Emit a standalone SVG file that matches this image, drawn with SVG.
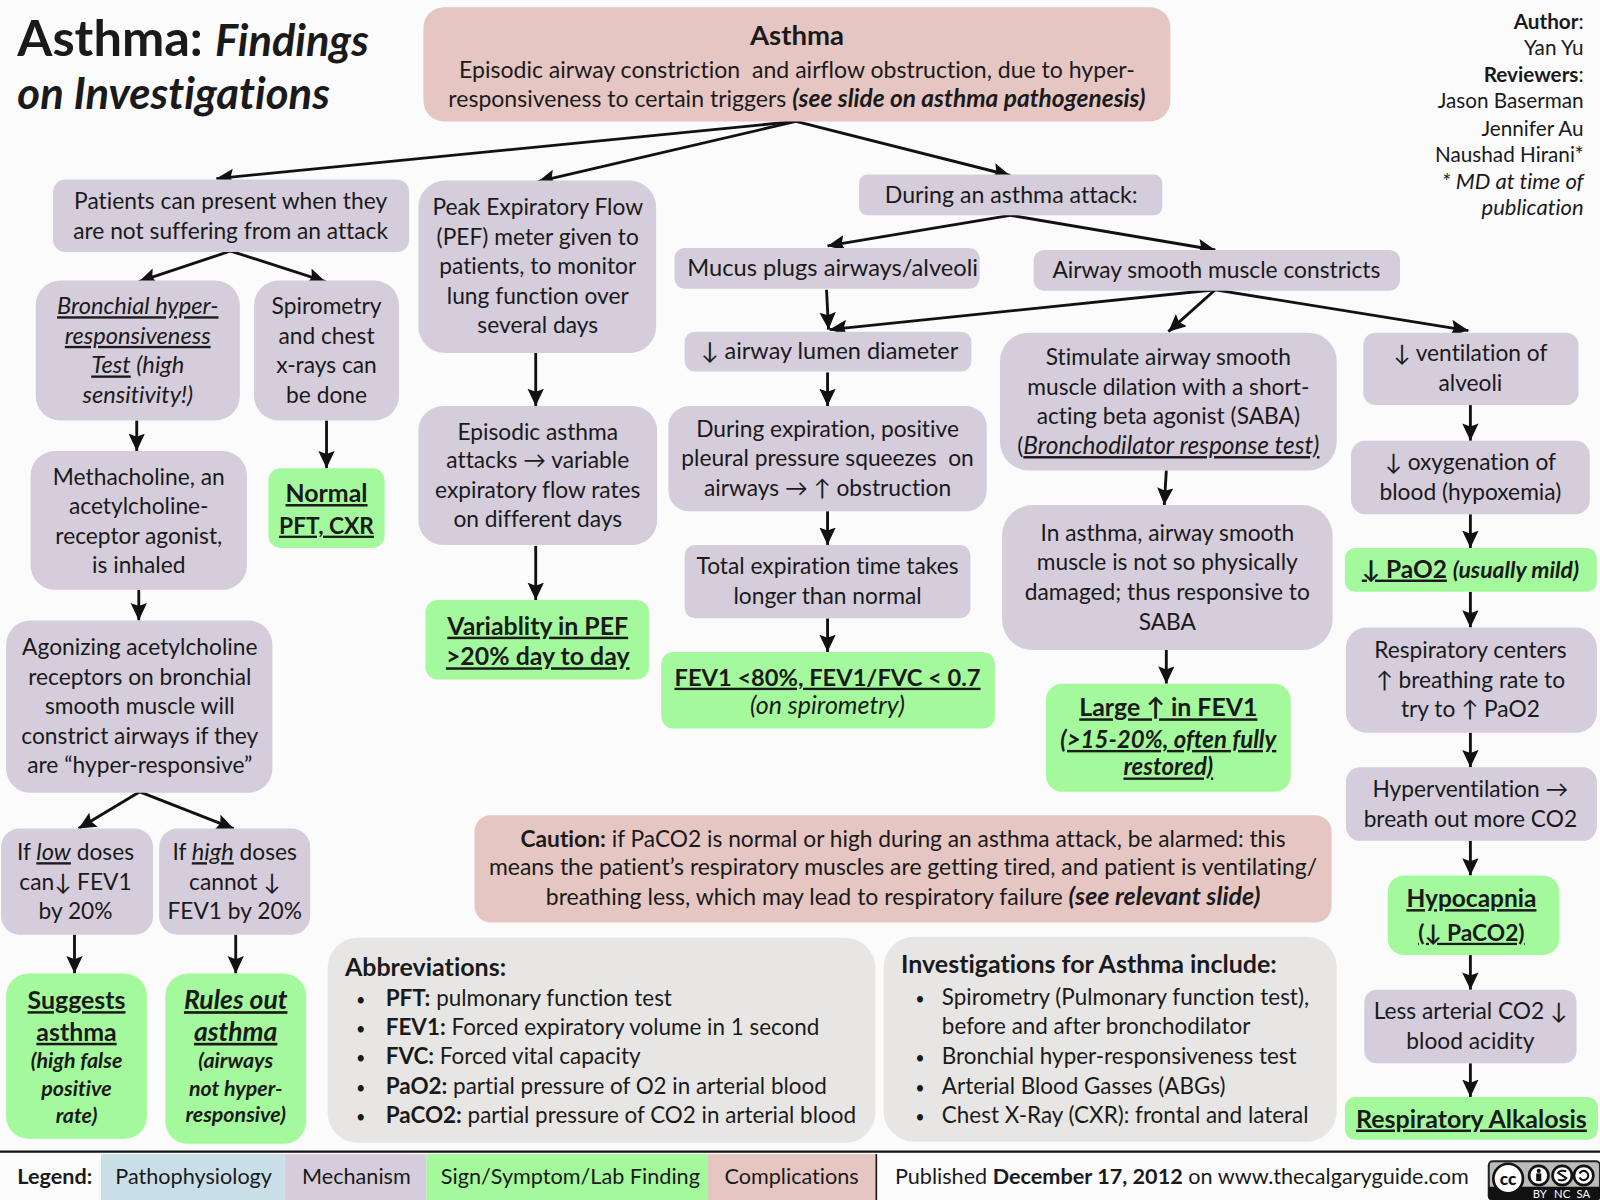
<svg xmlns="http://www.w3.org/2000/svg" width="1600" height="1200" viewBox="0 0 1600 1200">
<defs>
<marker id="ah" markerUnits="userSpaceOnUse" markerWidth="22" markerHeight="20" refX="17" refY="8" orient="auto"><path d="M0,0 L17,8 L0,16 L3,8 Z" fill="#111"/></marker>
</defs>
<style>
text{font-family:"Lato","DejaVu Sans",sans-serif;font-size:22.3px;fill:#1a1a1a;font-variant-ligatures:none}
.m{fill:#d5cddb}.g{fill:#a4f99c}.c{fill:#e5c6c2}.a{fill:#e8e6e4}
.t text{text-anchor:middle;transform:translate(0,1px)}
.b{font-weight:700}.i{font-style:italic;font-size:23.2px}.u{text-decoration:underline}
.bi{font-weight:700;font-style:italic;font-size:23.5px}
.x{font-size:24.4px}.h{font-size:24.5px}
.k line{stroke:#111;stroke-width:2.8;fill:none;marker-end:url(#ah)}
.r text{text-anchor:end;font-size:20.3px}
.s{font-size:22px}
.p{font-size:16px}
.e text{font-size:21.2px}
.o{fill:#fff;stroke:#111;stroke-width:2.6}
</style>
<rect width="1600" height="1200" fill="#fbfbfb"/>
<g transform="scale(1.0204)">
<g id="title">
<text x="17" y="55" class="b" style="font-size:49.5px">Asthma: <tspan style="font-size:42.5px;font-style:italic">Findings</tspan></text>
<text x="17" y="107" class="b" style="font-size:42.8px;font-style:italic">on Investigations</text>
</g>
<g id="author" class="r">
<text x="1552" y="28"><tspan class="b">Author</tspan>:</text>
<text x="1552" y="54">Yan Yu</text>
<text x="1552" y="80"><tspan class="b">Reviewers</tspan>:</text>
<text x="1552" y="106">Jason Baserman</text>
<text x="1552" y="133">Jennifer Au</text>
<text x="1552" y="159">Naushad Hirani*</text>
<text x="1552" y="185" style="font-style:italic;font-size:21.6px">* MD at time of</text>
<text x="1552" y="211" style="font-style:italic;font-size:21.6px">publication</text>
</g>
<g id="connectors" class="k">
<line x1="780" y1="119" x2="212" y2="175"/>
<line x1="780" y1="119" x2="527" y2="178"/>
<line x1="780" y1="119" x2="990" y2="172"/>
<line x1="990" y1="211" x2="811" y2="241"/>
<line x1="990" y1="211" x2="1191" y2="245"/>
<line x1="810" y1="284" x2="812" y2="323"/>
<line x1="1191" y1="284" x2="813" y2="323"/>
<line x1="1191" y1="284" x2="1145" y2="325"/>
<line x1="1191" y1="284" x2="1439" y2="324"/>
<line x1="226" y1="246" x2="136" y2="276"/>
<line x1="226" y1="246" x2="319" y2="276"/>
<line x1="525" y1="346" x2="525" y2="398"/>
<line x1="525" y1="535" x2="525" y2="588"/>
<line x1="134" y1="412" x2="134" y2="442"/>
<line x1="320" y1="412" x2="320" y2="459"/>
<line x1="136" y1="578" x2="136" y2="608"/>
<line x1="137" y1="776" x2="77" y2="812"/>
<line x1="137" y1="776" x2="229" y2="812"/>
<line x1="73" y1="916" x2="73" y2="954"/>
<line x1="231" y1="916" x2="231" y2="954"/>
<line x1="811" y1="365" x2="811" y2="398"/>
<line x1="811" y1="501" x2="811" y2="534"/>
<line x1="811" y1="606" x2="811" y2="639"/>
<line x1="1143" y1="461" x2="1141" y2="495"/>
<line x1="1143" y1="637" x2="1143" y2="670"/>
<line x1="1441" y1="397" x2="1441" y2="432"/>
<line x1="1441" y1="504" x2="1441" y2="537"/>
<line x1="1441" y1="580" x2="1441" y2="615"/>
<line x1="1441" y1="718" x2="1441" y2="752"/>
<line x1="1441" y1="824" x2="1441" y2="858"/>
<line x1="1441" y1="936" x2="1441" y2="970"/>
<line x1="1441" y1="1042" x2="1441" y2="1075"/>
</g>
<g id="n-asthma" class="t"><rect class="c" x="415" y="7" width="732" height="112" rx="20"/>
<text x="781" y="43" class="b" style="font-size:27px">Asthma</text>
<text x="781" y="75" style="font-size:22.6px;white-space:pre">Episodic airway constriction  and airflow obstruction, due to hyper-</text>
<text x="781" y="104" style="font-size:22.6px">responsiveness to certain triggers <tspan class="bi" style="font-size:24px">(see slide on asthma pathogenesis)</tspan></text></g>
<g id="n-patients" class="t"><rect class="m" x="52" y="176" width="349" height="71" rx="12"/>
<text x="226" y="204">Patients can present when they</text>
<text x="226" y="233">are not suffering from an attack</text></g>
<g id="n-bronchial" class="t"><rect class="m" x="35" y="275" width="200" height="137" rx="24"/>
<text x="135" y="307" class="i u">Bronchial hyper-</text>
<text x="135" y="336" class="i u">responsiveness</text>
<text x="135" y="365" class="i"><tspan class="u">Test</tspan> (high</text>
<text x="135" y="394" class="i">sensitivity!)</text></g>
<g id="n-spirometry" class="t"><rect class="m" x="249" y="275" width="142" height="137" rx="24"/>
<text x="320" y="307">Spirometry</text><text x="320" y="336">and chest</text><text x="320" y="365">x-rays can</text><text x="320" y="394">be done</text></g>
<g id="n-normal" class="t"><rect class="g" x="263" y="459" width="114" height="78" rx="12"/>
<text x="320" y="491" class="b u x">Normal</text><text x="320" y="522" class="b u">PFT, CXR</text></g>
<g id="n-methacholine" class="t"><rect class="m" x="30" y="442" width="212" height="136" rx="24"/>
<text x="136" y="474">Methacholine, an</text><text x="136" y="503">acetylcholine-</text><text x="136" y="532">receptor agonist,</text><text x="136" y="561">is inhaled</text></g>
<g id="n-agonizing" class="t"><rect class="m" x="6" y="608" width="261" height="169" rx="24"/>
<text x="137" y="641">Agonizing acetylcholine</text><text x="137" y="670">receptors on bronchial</text><text x="137" y="699">smooth muscle will</text><text x="137" y="728">constrict airways if they</text><text x="137" y="757">are “hyper-responsive”</text></g>
<g id="n-low" class="t"><rect class="m" x="1" y="812" width="149" height="104" rx="18"/>
<text x="74" y="842">If <tspan class="i u">low</tspan> doses</text><text x="74" y="871">can↓ FEV1</text><text x="74" y="900">by 20%</text></g>
<g id="n-high" class="t"><rect class="m" x="156" y="812" width="148" height="104" rx="18"/>
<text x="230" y="842">If <tspan class="i u">high</tspan> doses</text><text x="230" y="871">cannot ↓</text><text x="230" y="900">FEV1 by 20%</text></g>
<g id="n-suggests" class="t"><rect class="g" x="6" y="954" width="138" height="162" rx="22"/>
<text x="75" y="988" class="b u x">Suggests</text><text x="75" y="1019" class="b u x">asthma</text>
<text x="75" y="1046" class="bi" style="font-size:21px">(high false</text><text x="75" y="1073" class="bi" style="font-size:21px">positive</text><text x="75" y="1100" class="bi" style="font-size:21px">rate)</text></g>
<g id="n-rules" class="t"><rect class="g" x="162" y="954" width="138" height="167" rx="22"/>
<text x="231" y="988" class="bi u" style="font-size:26px">Rules out</text><text x="231" y="1019" class="bi u" style="font-size:26px">asthma</text>
<text x="231" y="1046" class="bi" style="font-size:21px">(airways</text><text x="231" y="1073" class="bi" style="font-size:21px">not hyper-</text><text x="231" y="1099" class="bi" style="font-size:21px">responsive)</text></g>
<g id="n-peak" class="t"><rect class="m" x="410" y="177" width="233" height="169" rx="26"/>
<text x="527" y="210">Peak Expiratory Flow</text><text x="527" y="239">(PEF) meter given to</text><text x="527" y="268">patients, to monitor</text><text x="527" y="297">lung function over</text><text x="527" y="325">several days</text></g>
<g id="n-episodic" class="t"><rect class="m" x="410" y="398" width="234" height="136" rx="24"/>
<text x="527" y="430">Episodic asthma</text><text x="527" y="458">attacks → variable</text><text x="527" y="487">expiratory flow rates</text><text x="527" y="515">on different days</text></g>
<g id="n-variability" class="t"><rect class="g" x="417" y="588" width="219" height="78" rx="12"/>
<text x="527" y="621" class="b u x">Variablity in PEF</text><text x="527" y="651" class="b u x">&gt;20% day to day</text></g>
<g id="n-during" class="t"><rect class="m" x="842" y="171" width="297" height="40" rx="8"/>
<text x="991" y="198" style="font-size:22.7px">During an asthma attack:</text></g>
<g id="n-mucus" class="t"><rect class="m" x="661" y="243" width="299" height="40" rx="10"/>
<text x="816" y="269" style="font-size:23.2px">Mucus plugs airways/alveoli</text></g>
<g id="n-smooth" class="t"><rect class="m" x="1013" y="245" width="359" height="40" rx="10"/>
<text x="1192" y="271">Airway smooth muscle constricts</text></g>
<g id="n-lumen" class="t"><rect class="m" x="671" y="325" width="281" height="39" rx="10"/>
<text x="813" y="351" style="font-size:23px">↓ airway lumen diameter</text></g>
<g id="n-expiration" class="t"><rect class="m" x="655" y="398" width="312" height="103" rx="20"/>
<text x="811" y="427">During expiration, positive</text><text x="811" y="456" style="white-space:pre">pleural pressure squeezes  on</text><text x="811" y="485">airways → ↑ obstruction</text></g>
<g id="n-total" class="t"><rect class="m" x="671" y="534" width="280" height="72" rx="10"/>
<text x="811" y="562">Total expiration time takes</text><text x="811" y="591">longer than normal</text></g>
<g id="n-fev" class="t"><rect class="g" x="648" y="639" width="327" height="75" rx="12"/>
<text x="811" y="671" class="b u" style="font-size:23.2px">FEV1 &lt;80%, FEV1/FVC &lt; 0.7</text><text x="811" y="699" class="i" style="font-size:24.5px">(on spirometry)</text></g>
<g id="n-stimulate" class="t"><rect class="m" x="980" y="326" width="330" height="135" rx="28"/>
<text x="1145" y="357">Stimulate airway smooth</text><text x="1145" y="386">muscle dilation with a short-</text><text x="1145" y="415">acting beta agonist (SABA)</text><text x="1145" y="444">(<tspan class="i u" style="font-size:24px">Bronchodilator response test)</tspan></text></g>
<g id="n-inasthma" class="t"><rect class="m" x="982" y="495" width="324" height="142" rx="30"/>
<text x="1144" y="529">In asthma, airway smooth</text><text x="1144" y="558">muscle is not so physically</text><text x="1144" y="587">damaged; thus responsive to</text><text x="1144" y="616">SABA</text></g>
<g id="n-large" class="t"><rect class="g" x="1025" y="670" width="240" height="106" rx="16"/>
<text x="1145" y="701" class="b u x">Large ↑ in FEV1</text><text x="1145" y="732" class="bi u">(&gt;15-20%, often fully</text><text x="1145" y="759" class="bi u">restored)</text></g>
<g id="n-ventilation" class="t"><rect class="m" x="1336" y="326" width="211" height="71" rx="12"/>
<text x="1441" y="353">↓ ventilation of</text><text x="1441" y="382">alveoli</text></g>
<g id="n-oxygenation" class="t"><rect class="m" x="1324" y="432" width="234" height="72" rx="14"/>
<text x="1441" y="460">↓ oxygenation of</text><text x="1441" y="489">blood (hypoxemia)</text></g>
<g id="n-pao2" class="t"><rect class="g" x="1318" y="537" width="247" height="43" rx="10"/>
<text x="1441" y="565"><tspan class="b u" style="font-size:24px">↓ PaO2</tspan> <tspan class="bi" style="font-size:22.5px">(usually mild)</tspan></text></g>
<g id="n-centers" class="t"><rect class="m" x="1319" y="615" width="246" height="103" rx="20"/>
<text x="1441" y="644">Respiratory centers</text><text x="1441" y="673">↑ breathing rate to</text><text x="1441" y="702">try to ↑ PaO2</text></g>
<g id="n-hyperv" class="t"><rect class="m" x="1319" y="752" width="246" height="72" rx="14"/>
<text x="1441" y="780">Hyperventilation →</text><text x="1441" y="809">breath out more CO2</text></g>
<g id="n-hypocapnia" class="t"><rect class="g" x="1360" y="858" width="168" height="78" rx="16"/>
<text x="1442" y="888" class="b u" style="font-size:24px">Hypocapnia</text><text x="1442" y="921" class="b u">(↓ PaCO2)</text></g>
<g id="n-less" class="t"><rect class="m" x="1337" y="970" width="208" height="72" rx="12"/>
<text x="1441" y="998">Less arterial CO2 ↓</text><text x="1441" y="1027">blood acidity</text></g>
<g id="n-alkalosis" class="t"><rect class="g" x="1318" y="1075" width="248" height="42" rx="10"/>
<text x="1442" y="1104" class="b u h">Respiratory Alkalosis</text></g>
<g id="n-caution" class="t"><rect class="c" x="465" y="799" width="840" height="105" rx="16"/>
<text x="885" y="829"><tspan class="b">Caution:</tspan> if PaCO2 is normal or high during an asthma attack, be alarmed: this</text>
<text x="885" y="857" style="font-size:22.5px">means the patient’s respiratory muscles are getting tired, and patient is ventilating/</text>
<text x="885" y="886" style="font-size:22.6px">breathing less, which may lead to respiratory failure <tspan class="bi" style="font-size:24.5px">(see relevant slide)</tspan></text></g>
<g id="n-abbrev"><rect class="a" x="321" y="919" width="537" height="201" rx="30"/>
<text x="338" y="956" class="b h">Abbreviations:</text>
<text x="349" y="986" class="p">•</text><text x="378" y="986" class="s"><tspan class="b">PFT:</tspan> pulmonary function test</text>
<text x="349" y="1014" class="p">•</text><text x="378" y="1014" class="s"><tspan class="b">FEV1:</tspan> Forced expiratory volume in 1 second</text>
<text x="349" y="1043" class="p">•</text><text x="378" y="1043" class="s"><tspan class="b">FVC:</tspan> Forced vital capacity</text>
<text x="349" y="1072" class="p">•</text><text x="378" y="1072" class="s"><tspan class="b">PaO2:</tspan> partial pressure of O2 in arterial blood</text>
<text x="349" y="1101" class="p">•</text><text x="378" y="1101" class="s"><tspan class="b">PaCO2:</tspan> partial pressure of CO2 in arterial blood</text></g>
<g id="n-investigations"><rect class="a" x="866" y="918" width="444" height="201" rx="30"/>
<text x="883" y="954" class="b h">Investigations for Asthma include:</text>
<text x="897" y="985" class="p">•</text><text x="923" y="985" class="s">Spirometry (Pulmonary function test),</text>
<text x="923" y="1013" class="s">before and after bronchodilator</text>
<text x="897" y="1043" class="p">•</text><text x="923" y="1043" class="s">Bronchial hyper-responsiveness test</text>
<text x="897" y="1072" class="p">•</text><text x="923" y="1072" class="s">Arterial Blood Gasses (ABGs)</text>
<text x="897" y="1101" class="p">•</text><text x="923" y="1101" class="s">Chest X-Ray (CXR): frontal and lateral</text></g>
<g id="legend" class="e">
<rect x="0" y="1127.5" width="1568" height="2.2" fill="#111"/>
<rect x="99" y="1131" width="180" height="45" fill="#c9dfe8"/>
<rect x="279" y="1131" width="139" height="45" fill="#d5cddb"/>
<rect x="418" y="1131" width="275" height="45" fill="#a4f99c"/>
<rect x="693" y="1131" width="165" height="45" fill="#e5c6c2"/>
<rect x="858" y="1131" width="1.6" height="45" fill="#111"/>
<text x="17" y="1160" class="b">Legend:</text>
<text x="113" y="1160">Pathophysiology</text>
<text x="296" y="1160">Mechanism</text>
<text x="432" y="1160">Sign/Symptom/Lab Finding</text>
<text x="710" y="1160">Complications</text>
<text x="877" y="1160">Published <tspan class="b">December 17, 2012</tspan> on www.thecalgaryguide.com</text>
</g>
<g id="cc">
<rect x="1459" y="1138" width="109" height="38" rx="4" fill="#bbb" stroke="#222" stroke-width="2"/>
<path d="M1459,1163 H1568 V1172 a4,4 0 0 1 -4,4 H1463 a4,4 0 0 1 -4,-4 Z" fill="#111"/>
<circle class="o" cx="1478" cy="1155" r="14.5"/>
<text x="1478" y="1161" text-anchor="middle" style="font-size:17px;font-weight:900;fill:#111">cc</text>
<circle class="o" cx="1508" cy="1152" r="9.5"/>
<circle cx="1508" cy="1147.5" r="2" fill="#111"/><rect x="1505.5" y="1150" width="5" height="7.5" fill="#111"/>
<circle class="o" cx="1531" cy="1152" r="9.5"/>
<path d="M1535,1148 a5,3 0 0 0 -8,1.5 l8,5 a5,3 0 0 1 -8,1.5" fill="none" stroke="#111" stroke-width="2"/>
<circle class="o" cx="1552" cy="1152" r="9.5"/>
<path d="M1548,1150 a4.5,4.5 0 1 1 0,4" fill="none" stroke="#111" stroke-width="2"/>
<text x="1502" y="1174" style="font-size:11px;fill:#fff">BY</text>
<text x="1523" y="1174" style="font-size:11px;fill:#fff">NC</text>
<text x="1545" y="1174" style="font-size:11px;fill:#fff">SA</text>
</g>
</g>
</svg>
